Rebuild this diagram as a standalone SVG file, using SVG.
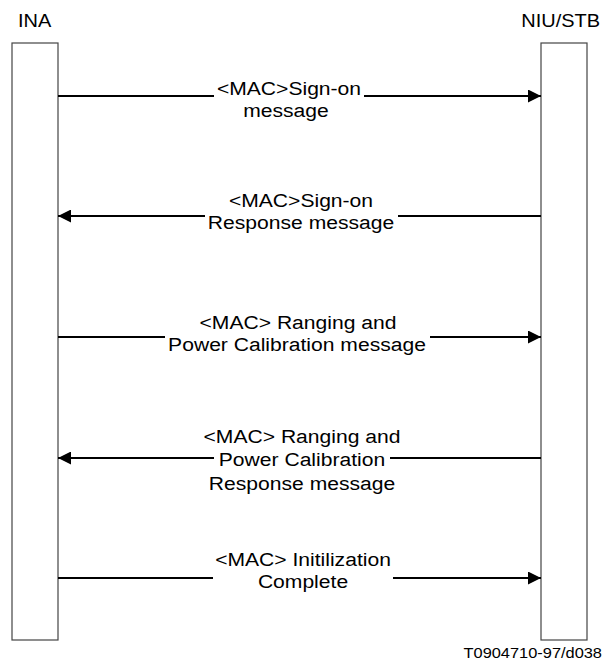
<svg xmlns="http://www.w3.org/2000/svg" width="607" height="666" viewBox="0 0 607 666">
<style>
text{font-family:"Liberation Sans",Arial,sans-serif;font-size:19px;fill:#000}
.lbl{text-anchor:middle}
.hdr{font-size:18px}
.bar{fill:#fff;stroke:#444;stroke-width:1.2}
.msg{stroke:#000;stroke-width:2;fill:none}
</style>
<defs>
<marker id="ah" markerUnits="userSpaceOnUse" markerWidth="13" markerHeight="13" viewBox="0 0 12 12" refX="12" refY="6" orient="auto">
<path d="M0,0 L12,6 L0,12 Z" fill="#000"/>
</marker>
</defs>
<rect width="607" height="666" fill="#fff"/>
<g id="INA">
<rect class="bar" x="12" y="43" width="46" height="597"/>
<text class="hdr" transform="translate(18,27) scale(1.11,1)">INA</text>
</g>
<g id="NIU_STB">
<rect class="bar" x="541" y="43" width="46" height="597"/>
<text class="hdr" text-anchor="end" transform="translate(600,27) scale(1.11,1)">NIU/STB</text>
</g>
<g id="connectors">
<path class="msg" d="M58,96 H214 M364,96 H541" marker-end="url(#ah)"/>
<path class="msg" d="M541,216 H398 M205,216 H58" marker-end="url(#ah)"/>
<path class="msg" d="M58,337 H165 M430,337 H541" marker-end="url(#ah)"/>
<path class="msg" d="M541,458 H390 M214,458 H58" marker-end="url(#ah)"/>
<path class="msg" d="M58,578 H213 M393,578 H541" marker-end="url(#ah)"/>
</g>
<g id="labels">
<text class="lbl" transform="translate(289,95) scale(1.11,1)">&lt;MAC&gt;Sign-on</text>
<text class="lbl" transform="translate(286,117) scale(1.11,1)">message</text>
<text class="lbl" transform="translate(301,207) scale(1.11,1)">&lt;MAC&gt;Sign-on</text>
<text class="lbl" transform="translate(301,229) scale(1.11,1)">Response message</text>
<text class="lbl" transform="translate(298,329) scale(1.11,1)">&lt;MAC&gt; Ranging and</text>
<text class="lbl" transform="translate(297,351) scale(1.11,1)">Power Calibration message</text>
<text class="lbl" transform="translate(302,443) scale(1.11,1)">&lt;MAC&gt; Ranging and</text>
<text class="lbl" transform="translate(302,466) scale(1.11,1)">Power Calibration</text>
<text class="lbl" transform="translate(302,490) scale(1.11,1)">Response message</text>
<text class="lbl" transform="translate(303,566) scale(1.11,1)">&lt;MAC&gt; Initilization</text>
<text class="lbl" transform="translate(303,588) scale(1.11,1)">Complete</text>
</g>
<text text-anchor="end" style="font-size:14.5px" transform="translate(602,658) scale(1.13,1)">T0904710-97/d038</text>
</svg>
